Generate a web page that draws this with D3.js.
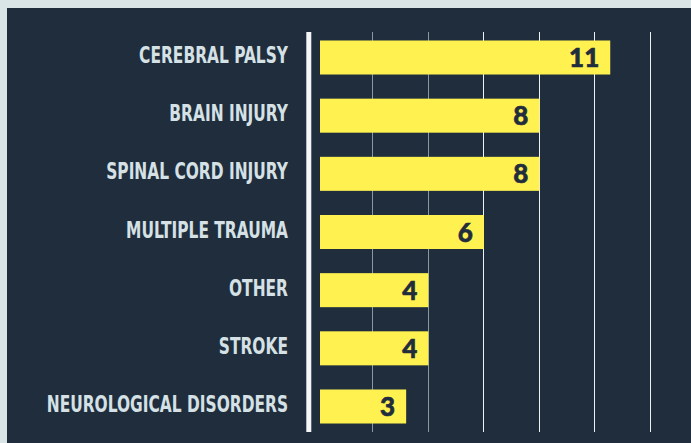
<!DOCTYPE html>
<html>
<head>
<meta charset="utf-8">
<script src="https://cdn.jsdelivr.net/npm/d3@7"></script>
<style>
  html, body { margin: 0; padding: 0; background: #dae5e8; }
  svg { display: block; }
</style>
</head>
<body>
<div id="chart"></div>
<script>
// Data (labels show rounded values)
const categories = ["CEREBRAL PALSY", "BRAIN INJURY", "SPINAL CORD INJURY", "MULTIPLE TRAUMA", "OTHER", "STROKE", "NEUROLOGICAL DISORDERS"];
const values = [10.55, 8, 8, 6, 4, 4, 3.2];
const gridTicks = [2, 4, 6, 8, 10, 12];

const data = categories.map((c, i) => ({ category: c, value: values[i] }));

const width = 691, height = 443;

const svg = d3.select("#chart").append("svg")
    .attr("width", width)
    .attr("height", height);

// dark panel
svg.append("rect")
    .attr("x", 7)
    .attr("y", 8)
    .attr("width", width - 7)
    .attr("height", height - 8)
    .attr("fill", "#1f2d3d");

// scales
const x = d3.scaleLinear()
    .domain([0, 12])
    .range([317.3, 650.5]);

const y = d3.scaleBand()
    .domain(categories)
    .range([32, 432])
    .paddingInner(0.415)
    .paddingOuter(0.146);

// gridlines
svg.append("g")
    .selectAll("line")
    .data(gridTicks)
    .join("line")
    .attr("x1", d => Math.floor(x(d)) + 0.5)
    .attr("x2", d => Math.floor(x(d)) + 0.5)
    .attr("y1", 32)
    .attr("y2", 432)
    .attr("stroke", d => d <= 4 ? "#8a96a0" : "#eef1f3")
    .attr("stroke-width", 1);

// bars
svg.append("g")
    .selectAll("rect")
    .data(data)
    .join("rect")
    .attr("x", x(0) + 2.7)
    .attr("y", d => y(d.category))
    .attr("width", d => x(d.value) - x(0) - 2.7)
    .attr("height", y.bandwidth())
    .attr("fill", "#fff250");

// value labels inside bars
svg.append("g")
    .selectAll("text")
    .data(data)
    .join("text")
    .attr("x", d => x(d.value) - 11)
    .attr("y", d => y(d.category) + y.bandwidth() / 2 + 9.5)
    .attr("text-anchor", "end")
    .attr("font-family", "Lato, 'Open Sans', sans-serif")
    .attr("font-weight", 900)
    .attr("font-size", 26)
    .attr("stroke", "#1f2d3d")
    .attr("stroke-width", 0.6)
    .attr("fill", "#1f2d3d")
    .text(d => d3.format(".0f")(d.value));

// vertical axis line
svg.append("line")
    .attr("x1", x(0) - 8.5)
    .attr("x2", x(0) - 8.5)
    .attr("y1", 32)
    .attr("y2", 432)
    .attr("stroke", "#f4f6f7")
    .attr("stroke-width", 5);

// category labels (condensed caps): squeeze to the reference width
const labels = svg.append("g")
    .selectAll("text")
    .data(data)
    .join("text")
    .attr("text-anchor", "end")
    .attr("font-family", "'DejaVu Sans Condensed', 'DejaVu Sans', sans-serif")
    .attr("font-weight", "bold")
    .attr("font-size", 23)
    .attr("fill", "#d5e1e5")
    .text(d => d.category);

const refLen = labels.filter(d => d.category === "CEREBRAL PALSY").node().getComputedTextLength();
const squeeze = 149 / refLen;

labels.attr("transform", d => `translate(288, ${y(d.category) + y.bandwidth() / 2 + 5.5}) scale(${squeeze}, 1)`);
</script>
</body>
</html>
